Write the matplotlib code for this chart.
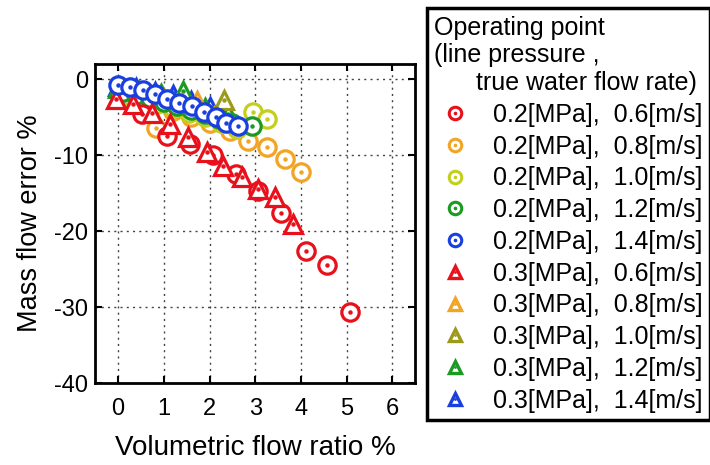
import matplotlib
matplotlib.use("Agg")
import matplotlib.pyplot as plt
from matplotlib.lines import Line2D
from matplotlib.legend_handler import HandlerTuple

plt.rcParams['font.family'] = ['Liberation Sans', 'DejaVu Sans']
plt.rcParams['axes.unicode_minus'] = False

# 0.2 MPa series (circles)
x_02_06 = [0.52, 1.06, 1.57, 2.08, 2.57, 3.07, 3.57, 4.10, 4.57, 5.08]
y_02_06 = [-4.5, -7.4, -8.5, -10.0, -12.5, -14.7, -17.6, -22.6, -24.4, -30.6]
x_02_08 = [0.82, 1.20, 1.60, 2.00, 2.45, 2.85, 3.25, 3.65, 4.01]
y_02_08 = [-6.4, -4.2, -5.0, -5.8, -6.8, -8.1, -8.9, -10.5, -12.2]
x_02_10 = [0.15, 0.50, 0.85, 1.20, 1.55, 1.90, 2.25, 2.60, 2.95, 3.25]
y_02_10 = [-2.0, -2.6, -3.2, -3.8, -4.4, -5.0, -5.8, -6.6, -4.3, -5.2]
x_02_12 = [0.10, 0.40, 0.70, 1.00, 1.30, 1.60, 1.90, 2.20, 2.50, 2.92]
y_02_12 = [-1.6, -2.0, -2.5, -3.0, -3.5, -4.0, -4.6, -5.2, -5.7, -6.1]
x_02_14 = [0.00, 0.26, 0.55, 0.81, 1.08, 1.34, 1.61, 1.88, 2.14, 2.37, 2.63]
y_02_14 = [-0.8, -1.0, -1.4, -1.9, -2.6, -3.1, -3.5, -4.3, -5.0, -5.8, -6.1]

# 0.3 MPa series (triangles)
x_03_06 = [-0.05, 0.33, 0.75, 1.14, 1.54, 1.94, 2.30, 2.70, 3.06, 3.43, 3.83]
y_03_06 = [-2.6, -3.3, -4.4, -5.9, -7.6, -9.6, -11.4, -12.9, -14.4, -15.5, -19.0]
x_03_08 = [0.10, 0.50, 0.90, 1.30, 1.72, 2.10, 2.50]
y_03_08 = [-1.8, -2.3, -2.8, -3.3, -2.8, -5.0, -6.0]
x_03_10 = [0.20, 0.60, 1.00, 1.40, 1.80, 2.31]
y_03_10 = [-1.6, -2.1, -2.7, -3.3, -4.0, -2.7]
x_03_12 = [0.00, 0.45, 0.95, 1.43, 1.90, 2.40]
y_03_12 = [-1.2, -1.5, -1.9, -1.5, -3.8, -4.6]
x_03_14 = [0.00, 0.40, 0.80, 1.20, 1.60, 2.00]
y_03_14 = [-0.9, -1.2, -1.6, -2.1, -2.8, -3.6]

labels = ['0.2[MPa],  0.6[m/s]', '0.2[MPa],  0.8[m/s]', '0.2[MPa],  1.0[m/s]',
          '0.2[MPa],  1.2[m/s]', '0.2[MPa],  1.4[m/s]',
          '0.3[MPa],  0.6[m/s]', '0.3[MPa],  0.8[m/s]', '0.3[MPa],  1.0[m/s]',
          '0.3[MPa],  1.2[m/s]', '0.3[MPa],  1.4[m/s]']

circ_colors = ['#e8101a', '#f2a424', '#c4cf1c', '#1b9a22', '#1a3fe0']
tri_colors = ['#e8101a', '#f2a424', '#9c9a1a', '#1b9a22', '#1a3fe0']

circ_data = [(x_02_06, y_02_06), (x_02_08, y_02_08), (x_02_10, y_02_10),
             (x_02_12, y_02_12), (x_02_14, y_02_14)]
tri_data = [(x_03_06, y_03_06), (x_03_08, y_03_08), (x_03_10, y_03_10),
            (x_03_12, y_03_12), (x_03_14, y_03_14)]

fig = plt.figure(figsize=(7.1, 4.65), dpi=100)
ax = fig.add_axes([0.134, 0.176, 0.451, 0.686])


def draw(x, y, col, mk, z):
    ax.plot(x, y, ls='none', marker=mk, ms=12.5, mfc='white', mec=col, mew=2.3, zorder=z)
    ax.plot(x, y, ls='none', marker='o', ms=2.2, mfc=col, mec=col, zorder=z + 0.1)


# drawing order: band series first, red and blue on top
order = [(tri_data[4], tri_colors[4], '^'), (tri_data[3], tri_colors[3], '^'),
         (tri_data[2], tri_colors[2], '^'), (tri_data[1], tri_colors[1], '^'),
         (circ_data[1], circ_colors[1], 'o'), (circ_data[2], circ_colors[2], 'o'),
         (circ_data[3], circ_colors[3], 'o'), (circ_data[0], circ_colors[0], 'o'),
         (tri_data[0], tri_colors[0], '^'), (circ_data[4], circ_colors[4], 'o')]
for i, (d, c, m) in enumerate(order):
    draw(d[0], d[1], c, m, 3 + i)

ax.set_xlim(-0.5, 6.5)
ax.set_ylim(-40, 2)
ax.set_xticks([0, 1, 2, 3, 4, 5, 6])
ax.set_yticks([0, -10, -20, -30, -40])
ax.grid(True, ls=(0, (1.5, 3)), color='#444444', lw=1.0)
ax.set_axisbelow(True)
ax.tick_params(direction='in', length=5, width=1.5, labelsize=17, top=True, right=True, pad=5)
ax.tick_params(axis='x', pad=10.5)
for s in ax.spines.values():
    s.set_linewidth(2)
ax.set_xlabel('Volumetric flow ratio %', fontsize=20, labelpad=11)
ax.set_ylabel('Mass flow error %', fontsize=19.5, labelpad=8)

handles = []
for c in circ_colors:
    handles.append((Line2D([], [], ls='none', marker='o', ms=9, mfc='white', mec=c, mew=2.2),
                    Line2D([], [], ls='none', marker='o', ms=1.6, mfc=c, mec=c)))
for c in tri_colors:
    handles.append((Line2D([], [], ls='none', marker='^', ms=8.5, mfc='white', mec=c, mew=2.4),
                    Line2D([], [], ls='none', marker='o', ms=1.0, mfc=c, mec=c)))

leg = fig.legend(handles, labels, handler_map={tuple: HandlerTuple(ndivide=1)},
                 loc='upper left', bbox_to_anchor=(427 / 710, 1 - 8 / 465),
                 title='Operating point\n(line pressure ,\n      true water flow rate)',
                 alignment='left', fontsize=18, title_fontsize=18,
                 frameon=True, fancybox=False, framealpha=1, edgecolor='black',
                 labelspacing=0.31, handletextpad=0.75, handlelength=1.6, borderpad=0.3,
                 borderaxespad=0)
leg.get_frame().set_linewidth(2.5)

fig.savefig('out.png', dpi=100)
